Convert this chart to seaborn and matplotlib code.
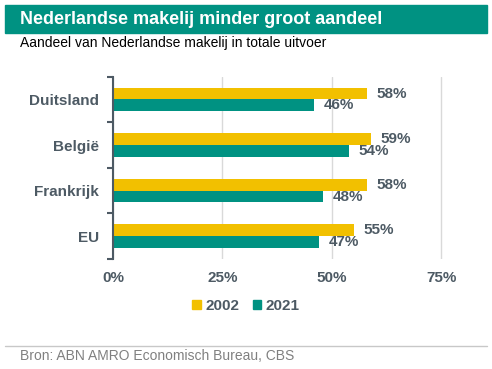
import seaborn as sns
import pandas as pd
import matplotlib.pyplot as plt
from matplotlib.patches import Rectangle, Patch
from matplotlib.lines import Line2D
from matplotlib.ticker import FixedLocator, PercentFormatter

landen = ['Duitsland', 'België', 'Frankrijk', 'EU']
jaren = ['2002', '2021']
aandeel_2002 = [58, 59, 58, 55]
aandeel_2021 = [46, 54, 48, 47]
kleuren = ['#f2c000', '#009282']

df = pd.DataFrame({
    'land': landen * 2,
    'jaar': [jaren[0]] * 4 + [jaren[1]] * 4,
    'aandeel': aandeel_2002 + aandeel_2021,
})

sns.set_style('white')
plt.rcParams['font.family'] = ['Liberation Sans', 'DejaVu Sans']
grijs = '#4d5a64'

fig = plt.figure(figsize=(4.92, 3.69), dpi=100)
W, H = 492, 369

# title banner
fig.patches.append(Rectangle((5 / W, 1 - 33 / H), 482 / W, 28 / H,
                             transform=fig.transFigure, color='#009282', zorder=0))
fig.text(20 / W, 1 - 19 / H, 'Nederlandse makelij minder groot aandeel',
         color='white', fontsize=13, fontweight='bold', va='center')
fig.text(20 / W, 1 - 43 / H, 'Aandeel van Nederlandse makelij in totale uitvoer',
         color='black', fontsize=10, va='center')

ax = fig.add_axes([113 / W, 1 - 259 / H, 350 / W, (259 - 76.7) / H])
sns.barplot(data=df, x='aandeel', y='land', hue='jaar', orient='h',
            palette=kleuren, saturation=1, width=0.52, ax=ax, legend=False,
            linewidth=0)

for c in ax.containers:
    ax.bar_label(c, fmt='%d%%', padding=7, color=grijs, fontsize=11,
                 fontweight='bold')

ax.set_xlim(0, 80)
ax.set_xticks([0, 25, 50, 75])
ax.xaxis.set_major_formatter(PercentFormatter(decimals=0))
ax.grid(axis='x', color='#d9d9d9', linewidth=1)
ax.set_axisbelow(True)
ax.set_xlabel('')
ax.set_ylabel('')
for s in ['top', 'right', 'bottom']:
    ax.spines[s].set_visible(False)
ax.spines['left'].set_color(grijs)
ax.spines['left'].set_linewidth(1.5)
ax.tick_params(axis='x', length=0, pad=9, labelsize=11, labelcolor=grijs)
ax.tick_params(axis='y', which='major', length=0, pad=10, labelsize=11,
               labelcolor=grijs)
ax.yaxis.set_minor_locator(FixedLocator([-0.5, 0.5, 1.5, 2.5, 3.5]))
ax.tick_params(axis='y', which='minor', length=4, width=1.5, color=grijs,
               direction='out', left=True)
for t in ax.get_xticklabels() + ax.get_yticklabels():
    t.set_fontweight('bold')

handles = [Patch(color=k, label=j) for j, k in zip(jaren, kleuren)]
fig.legend(handles=handles, loc='center', bbox_to_anchor=(246 / W, 1 - 306 / H),
           ncol=2, frameon=False, handlelength=0.55, handleheight=0.55,
           handletextpad=0.3, columnspacing=0.9,
           prop={'size': 11, 'weight': 'bold'}, labelcolor=grijs)

fig.add_artist(Line2D([5 / W, 487 / W], [1 - 346 / H, 1 - 346 / H],
                      transform=fig.transFigure, color='#c8c8c8', linewidth=1))
fig.text(20 / W, 1 - 356 / H, 'Bron: ABN AMRO Economisch Bureau, CBS',
         color='#808080', fontsize=10, va='center')

fig.savefig('out.png', dpi=100)
